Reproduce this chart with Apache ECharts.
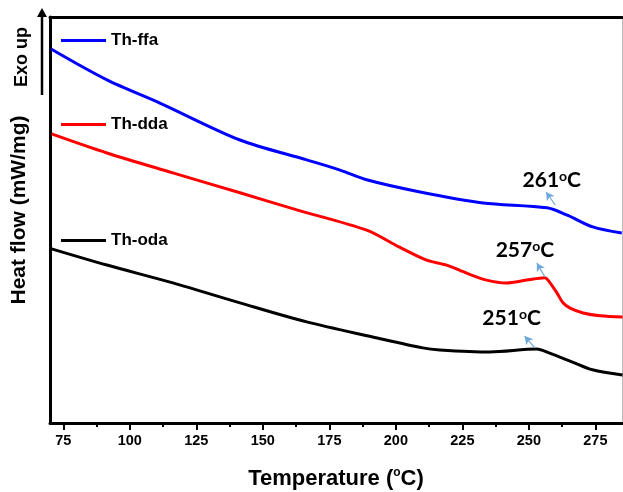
<!DOCTYPE html>
<html><head><meta charset="utf-8">
<script src="https://cdn.jsdelivr.net/npm/echarts@6/dist/echarts.min.js"></script>
<style>html,body{margin:0;padding:0;background:#fff}#c{width:623px;height:492px}</style>
</head><body><div id="c"></div>
<script>
// Temperature (°C) and heat flow (arbitrary units, exo up)
const ffaT = [70.4, 91.4, 111.3, 141.4, 166.5, 179, 189, 209.1, 232.8, 256.8, 264.4, 274, 284.9];
const ffaV = [92.1, 84.5, 78.8, 69.7, 64.8, 62.3, 59.9, 56.9, 54.2, 53.0, 51.2, 48.3, 46.8];
const ddaT = [70.6, 91.4, 116.2, 141.4, 162.8, 189.0, 201.4, 211.6, 219.1, 226.6, 234.1, 241.6, 249.1, 256.0, 257.2, 260.6, 262.8, 265.5, 270.4, 276.8, 285.2];
const ddaV = [71.2, 66.5, 61.6, 56.7, 52.5, 47.5, 43.3, 40.1, 38.9, 36.9, 35.2, 34.5, 35.2, 35.8, 35.2, 32.0, 29.6, 28.3, 27.1, 26.4, 26.1];
const odaT = [70.6, 91.4, 116.2, 141.4, 166.5, 191.3, 210.1, 216.5, 235.3, 252.9, 257.8, 266.4, 273.9, 285.2];
const odaV = [42.9, 38.9, 34.5, 29.6, 24.9, 21.2, 18.5, 18.0, 17.5, 18.2, 17.2, 15.0, 13.1, 11.8];
const seriesNames = ['Th-ffa', 'Th-dda', 'Th-oda'];
const seriesColors = ['#0000ff', '#ff0000', '#000000'];
const majorTicks = [75, 100, 125, 150, 175, 200, 225, 250, 275];
const minorTicks = [87.5, 112.5, 137.5, 162.5, 187.5, 212.5, 237.5, 262.5];
// annotations: peak labels and arrows (tail -> head)
const annTexts = ['261', '257', '251'];
const annTextT = [258.6, 248.5, 243.5];
const annTextV = [59.9, 42.6, 25.9];
const arrTailT = [259.9, 256.0, 252.2];
const arrTailV = [53.7, 36.0, 18.5];
const arrHeadT = [256.5, 253.0, 248.4];
const arrHeadV = [56.9, 39.4, 21.4];

const zip = (a, b) => a.map((x, i) => [x, b[i]]);
const allT = [ffaT, ddaT, odaT], allV = [ffaV, ddaV, odaV];

const chart = echarts.init(document.getElementById('c'), null, {renderer: 'canvas'});
const series = seriesNames.map((n, i) => ({
  name: n, type: 'line', data: zip(allT[i], allV[i]), showSymbol: false, smooth: 0.3,
  lineStyle: {color: seriesColors[i], width: 3}, itemStyle: {color: seriesColors[i]}
}));
series.push({
  name: 'ann', type: 'scatter', symbolSize: 0, data: annTexts.map((t, i) => [annTextT[i], annTextV[i], t]),
  itemStyle: {opacity: 1},
  label: {show: true, position: 'inside', color: '#000', opacity: 1, textBorderWidth: 0,
    formatter: p => '{n|' + p.data[2] + '}{o|o}{n|C}',
    rich: {n: {fontFamily: 'Lato', fontSize: 21, color: '#000', fontWeight: 'bold', textBorderWidth: 0},
           o: {fontFamily: 'Lato', fontSize: 14, color: '#000', fontWeight: 'bold', textBorderWidth: 0, verticalAlign: 'top', padding: [0, 0, 6, 0]}}},
  markLine: {silent: true, symbol: ['none', 'arrow'], symbolSize: [7, 8],
    lineStyle: {color: '#6fa8dc', width: 1.2, type: 'solid'}, label: {show: false},
    data: arrTailT.map((t, i) => [{coord: [t, arrTailV[i]]}, {coord: [arrHeadT[i], arrHeadV[i]]}])}
});

const legendTops = [27, 111, 227];
chart.setOption({
  animation: false,
  backgroundColor: '#fff',
  grid: {left: 50, right: 1, top: 17, bottom: 69, outerBoundsMode: 'none'},
  legend: seriesNames.map((n, i) => ({
    data: [n], left: 56, top: legendTops[i], icon: 'rect', itemWidth: 45, itemHeight: 3, itemGap: 0,
    textStyle: {fontFamily: 'Liberation Sans', fontWeight: 'bold', fontSize: 17, color: '#000'}
  })),
  xAxis: [
    {type: 'value', min: 70, max: 285, position: 'bottom',
     name: '{t|Temperature (}{o|o}{t|C)}', nameLocation: 'middle', nameGap: 44,
     nameTextStyle: {rich: {t: {fontFamily: 'Liberation Sans', fontWeight: 'bold', fontSize: 22, color: '#000'},
       o: {fontFamily: 'Liberation Sans', fontWeight: 'bold', fontSize: 12, color: '#000', verticalAlign: 'top', padding: [0, 0, 12, 0]}}},
     axisLine: {lineStyle: {color: '#000', width: 3}},
     axisTick: {show: true, customValues: majorTicks, length: 7, lineStyle: {width: 2, color: '#000'}},
     axisLabel: {customValues: majorTicks, margin: 10, fontFamily: 'Liberation Sans', fontWeight: 'bold', fontSize: 14.5, color: '#000'},
     splitLine: {show: false}},
    {type: 'value', min: 70, max: 285, position: 'bottom',
     axisLine: {show: false},
     axisTick: {show: true, customValues: minorTicks, length: 4, lineStyle: {width: 2, color: '#000'}},
     axisLabel: {show: false}, splitLine: {show: false}},
    {type: 'value', min: 70, max: 285, position: 'top',
     axisLine: {lineStyle: {color: '#000', width: 3}}, axisTick: {show: false}, axisLabel: {show: false}, splitLine: {show: false}}
  ],
  yAxis: [
    {type: 'value', min: 0, max: 100, position: 'left',
     name: 'Heat flow (mW/mg)', nameLocation: 'middle', nameGap: 20, nameRotate: 90,
     nameTextStyle: {fontFamily: 'Liberation Sans', fontWeight: 'bold', fontSize: 21, color: '#000', padding: [0, 0, 0, 20]},
     axisLine: {show: true, lineStyle: {color: '#000', width: 3}}, axisTick: {show: false}, axisLabel: {show: false}, splitLine: {show: false}},
    {type: 'value', min: 0, max: 100, position: 'right',
     axisLine: {show: true, lineStyle: {color: '#bbb', width: 1}}, axisTick: {show: false}, axisLabel: {show: false}, splitLine: {show: false}}
  ],
  graphic: [
    {type: 'text', x: 22, y: 57, rotation: Math.PI / 2, style: {text: 'Exo up', fontFamily: 'Liberation Sans', fontWeight: 'bold', fontSize: 18, fill: '#000', align: 'center', verticalAlign: 'middle'}},
    {type: 'line', shape: {x1: 42, y1: 95, x2: 42, y2: 14}, style: {stroke: '#000', lineWidth: 2.5}},
    {type: 'polygon', shape: {points: [[37, 17], [47, 17], [42, 8]]}, style: {fill: '#000'}}
  ],
  series: series
});
</script></body></html>
